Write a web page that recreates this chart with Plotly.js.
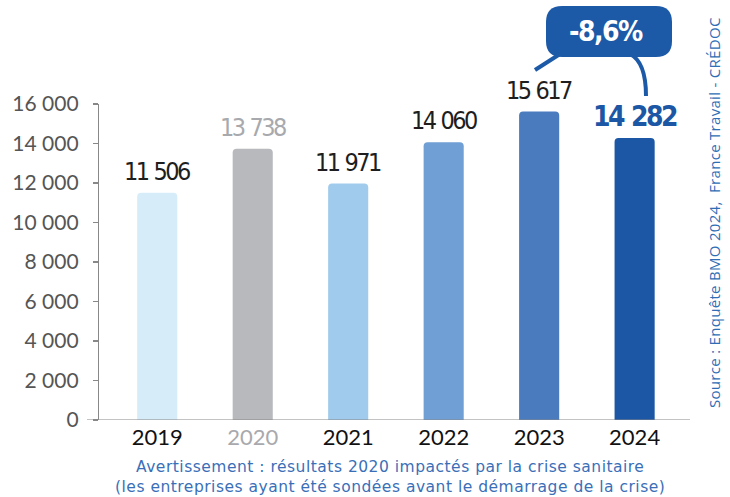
<!DOCTYPE html>
<html><head><meta charset="utf-8">
<script src="https://cdn.plot.ly/plotly-3.0.1.min.js"></script>
<style>html,body{margin:0;padding:0;background:#fff;}#chart{width:730px;height:497px;}</style>
</head><body><div id="chart"></div>
<script>
const years = ['2019', '2020', '2021', '2022', '2023', '2024'];
const values = [11506, 13738, 11971, 14060, 15617, 14282];
const barColors = ['#d6edf9', '#b8b9bd', '#a1cbec', '#6f9fd4', '#4a7bbf', '#1b57a5'];
const labelColors = ['#1e1e1e', '#a8a9ad', '#1e1e1e', '#1e1e1e', '#1e1e1e', '#1b57a5'];
const yearLabelColors = ['#111', '#a8a9ad', '#111', '#111', '#111', '#111'];
const yTicks = [0, 2000, 4000, 6000, 8000, 10000, 12000, 14000, 16000];
const changeLabel = '-8,6%';
const footerLines = ['Avertissement : résultats 2020 impactés par la crise sanitaire', '(les entreprises ayant été sondées avant le démarrage de la crise)'];
const source = 'Source : Enquête BMO 2024,  France Travail - CRÉDOC';

const W = 730, H = 497, L = 99, R = 40, T = 104, B = 77;
const pw = W - L - R, ph = H - T - B;
const px = x => (x - L) / pw;
const py = y => (H - B - y) / ph;

function fmt(v){ return String(v).replace(/\B(?=(\d{3})+(?!\d))/g, ' '); }
function fmtWide(v){ return String(v).replace(/\B(?=(\d{3})+(?!\d))/g, '\u00a0\u2006'); }
const narrow = (s, ls) => `<span style="font-stretch:condensed;letter-spacing:${ls}px">${s}</span>`;

const trace = {
  type: 'bar', x: years, y: values, width: 0.42,
  marker: {color: barColors, cornerradius: 4},
  hoverinfo: 'none'
};

const condensed = 'DejaVu Sans, sans-serif';
const annotations = years.map((yr, i) => ({
  x: i, y: values[i], xref: 'x', yref: 'y', xanchor: 'center', yanchor: 'bottom', yshift: i === 5 ? 3 : 5,
  text: i === 5 ? '<b>' + narrow(fmtWide(values[i]), -2.5) + '</b>' : narrow(fmtWide(values[i]), -2.5),
  showarrow: false,
  font: {family: condensed, size: i === 5 ? 28 : 25, color: labelColors[i]}
}));
annotations.push({
  x: px(606), y: py(32), xref: 'paper', yref: 'paper', xanchor: 'center', yanchor: 'middle',
  text: '<b>' + narrow(changeLabel, -1.5) + '</b>',
  showarrow: false, font: {family: condensed, size: 28, color: '#ffffff'}
});
footerLines.forEach((t, k) => annotations.push({
  x: px(390), y: py(467 + 20 * k), xref: 'paper', yref: 'paper', xanchor: 'center', yanchor: 'middle',
  text: `<span style="letter-spacing:0.5px">${t}</span>`, showarrow: false,
  font: {family: 'DejaVu Sans, sans-serif', size: 15.5, color: '#3a6fb8'}
}));
annotations.push({
  x: px(714), y: py(212), xref: 'paper', yref: 'paper', xanchor: 'center', yanchor: 'middle',
  text: `<span style="letter-spacing:0.3px">${source}</span>`, showarrow: false, textangle: -90,
  font: {family: 'Open Sans, sans-serif', size: 15, color: '#2f6db5'}
});

function roundRect(x0, y0, x1, y1, r){
  const X0 = px(x0), X1 = px(x1), Y0 = py(y0), Y1 = py(y1);
  const rx = r / pw, ry = r / ph;
  return `M${X0 + rx},${Y0} L${X1 - rx},${Y0} Q${X1},${Y0} ${X1},${Y0 - ry} L${X1},${Y1 + ry} Q${X1},${Y1} ${X1 - rx},${Y1} L${X0 + rx},${Y1} Q${X0},${Y1} ${X0},${Y1 + ry} L${X0},${Y0 - ry} Q${X0},${Y0} ${X0 + rx},${Y0} Z`;
}

const blue = '#1c5aa8';
const shapes = [
  {type: 'path', xref: 'paper', yref: 'paper', path: roundRect(546, 6, 672, 57, 16), fillcolor: blue, line: {width: 0}},
  {type: 'path', xref: 'paper', yref: 'paper', path: `M${px(535)},${py(70)} L${px(560)},${py(54)}`, line: {color: blue, width: 4}},
  {type: 'path', xref: 'paper', yref: 'paper', path: `M${px(630)},${py(54)} Q${px(646)},${py(62)} ${px(646)},${py(96)}`, line: {color: blue, width: 4}},
  {type: 'line', xref: 'paper', yref: 'y', x0: px(87), x1: 1, y0: 0, y1: 0, line: {color: '#888', width: 1.2}}
];

const layout = {
  width: W, height: H,
  margin: {l: L, r: R, t: T, b: B},
  paper_bgcolor: '#fff', plot_bgcolor: '#fff',
  showlegend: false,
  xaxis: {
    type: 'category',
    range: [-0.61, 5.58], showline: false, showgrid: false, zeroline: false,
    tickvals: years,
    ticktext: years.map((y, i) => `<span style="color:${yearLabelColors[i]}">${y}</span>`),
    ticks: '', ticklabelstandoff: 2,
    tickfont: {family: 'Lato, sans-serif', size: 22, color: '#111'}
  },
  yaxis: {
    range: [0, 16000], tickvals: yTicks, ticktext: yTicks.map(fmt),
    showgrid: false, zeroline: false, showline: true, linecolor: '#888', linewidth: 1.2,
    ticks: 'outside', ticklen: 5, tickcolor: '#888', tickwidth: 1.2, ticklabelstandoff: 10,
    tickfont: {family: 'Lato, sans-serif', size: 21, color: '#555'}
  },
  annotations: annotations,
  shapes: shapes
};

Plotly.newPlot('chart', [trace], layout, {displayModeBar: false, staticPlot: true});
</script></body></html>
